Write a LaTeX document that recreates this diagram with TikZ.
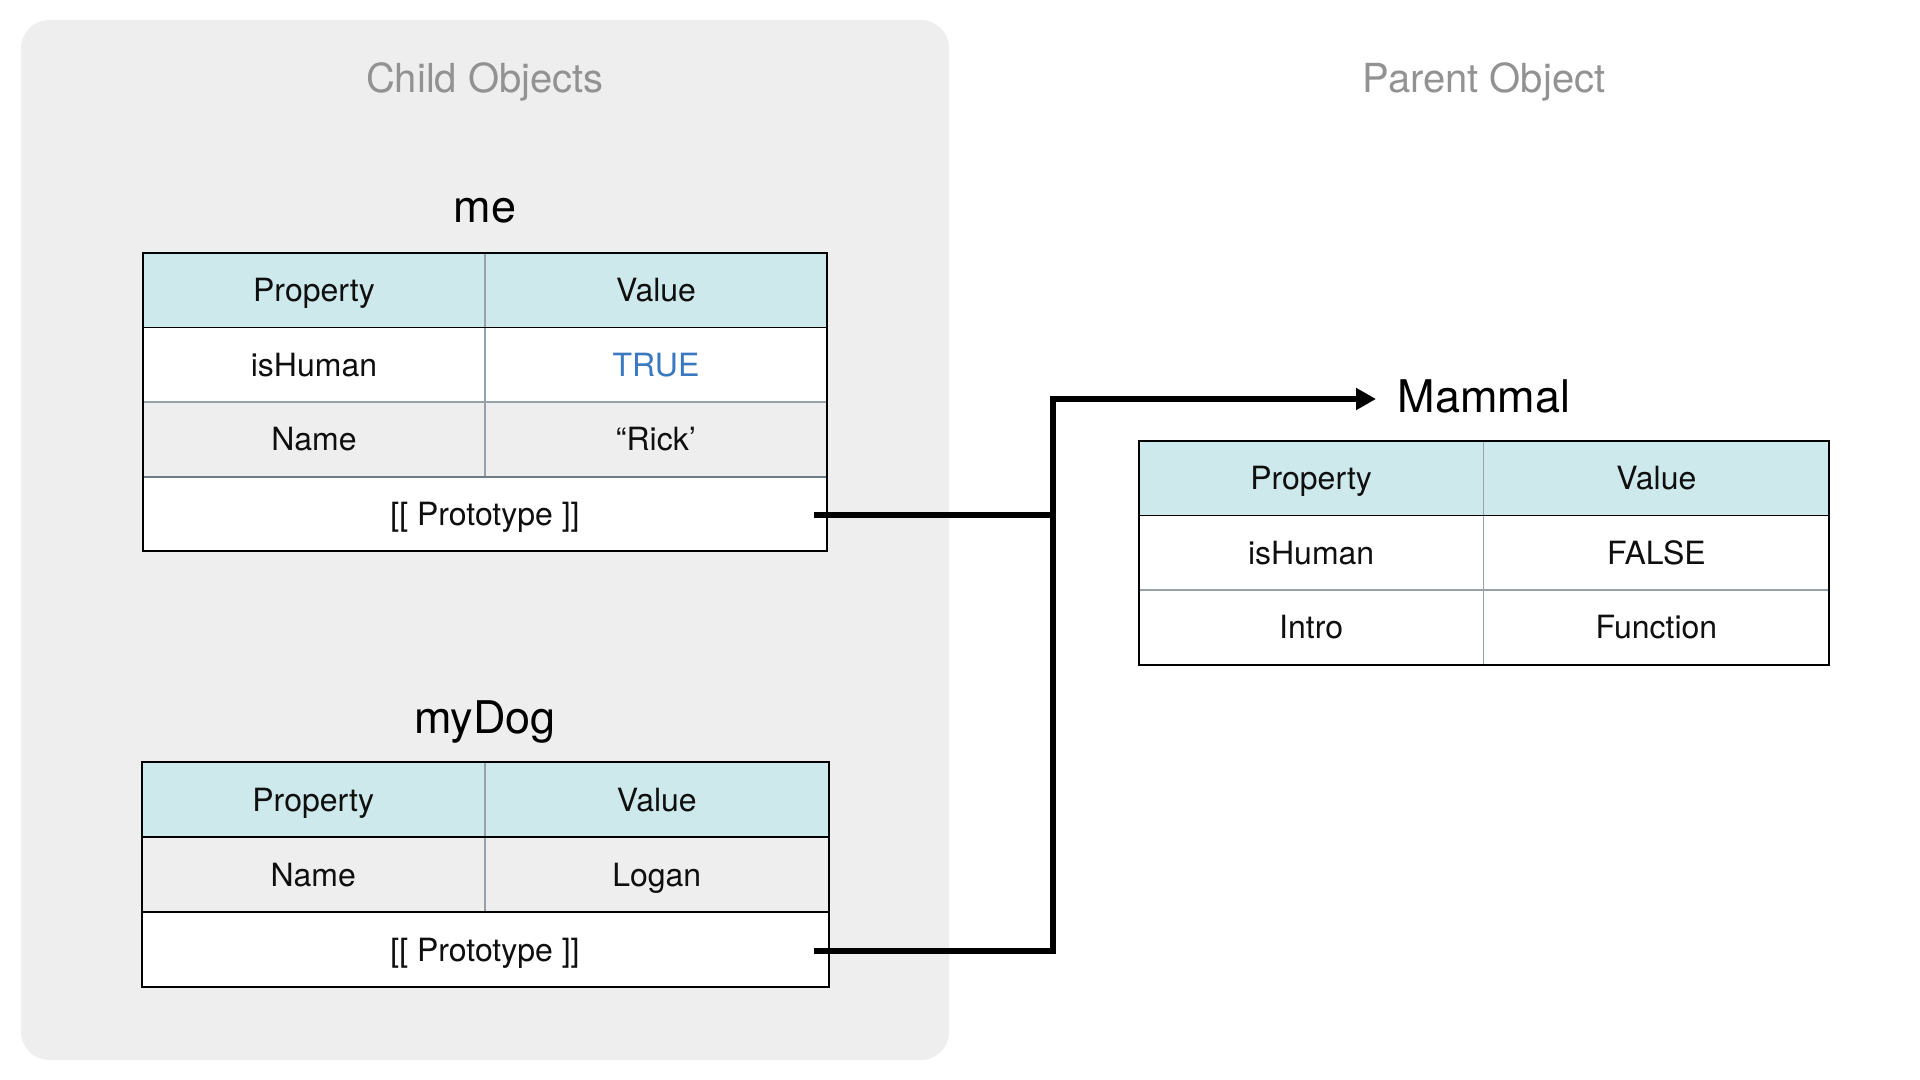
\documentclass[tikz,border=0pt]{standalone}
\usepackage{fontspec}
\setmainfont{TeX Gyre Heros}
\usetikzlibrary{arrows.meta}
\definecolor{panel}{RGB}{238,238,238}
\definecolor{hdr}{RGB}{206,233,236}
\definecolor{rowgray}{RGB}{238,238,238}
\definecolor{gridc}{RGB}{150,161,170}
\definecolor{gridd}{RGB}{110,124,136}
\definecolor{truec}{RGB}{58,120,192}
\definecolor{ttl}{RGB}{146,146,146}
\definecolor{ink}{RGB}{15,15,15}
\begin{document}
\begin{tikzpicture}[x=0.5pt,y=-0.5pt,
  cell/.style={inner sep=0pt, outer sep=0pt, text height=11.5pt, text depth=0pt,
    font=\fontsize{16}{19}\selectfont, text=ink},
  metab/.style={cell, minimum height=37.25pt},
  dogtab/.style={cell, minimum height=37.5pt},
  mamtab/.style={cell, minimum height=37.25pt},
  sectitle/.style={anchor=base, font=\fontsize{20}{24}\selectfont, text=ttl},
  objtitle/.style={anchor=base, font=\fontsize{22.5}{27}\selectfont, text=black},
  border/.style={draw=black, line width=1pt},
  hdrline/.style={draw=black, line width=0.8pt},
  gridline/.style={draw=gridc, line width=0.6pt},
  gridthick/.style={draw=gridd, line width=1pt},
  conn/.style={draw=black, line width=2.6pt, line join=miter},
  tip/.style={-{Triangle[length=10pt,width=10.5pt]}}
]
\useasboundingbox (0,0) rectangle (1920,1080);

% background panel
\fill[panel, rounded corners=14pt] (21,20) rectangle (949,1060);

% section titles
\node[sectitle] (tchild) at (485,93) {Child Objects};
\node[sectitle] (tparent) at (1484,93) {Parent Object};

% ---------------- me ----------------
\node[objtitle] (tme) at (485,223) {me};
\node[metab, fill=hdr, minimum width=171pt] (me-h1) at (314,290.25) {Property};
\node[metab, fill=hdr, minimum width=171pt] (me-h2) at (656,290.25) {Value};
\node[metab, fill=white, minimum width=171pt] (me-a1) at (314,364.75) {isHuman};
\node[metab, fill=white, minimum width=171pt, text=truec] (me-a2) at (656,364.75) {TRUE};
\node[metab, fill=rowgray, minimum width=171pt] (me-b1) at (314,439.25) {Name};
\node[metab, fill=rowgray, minimum width=171pt] (me-b2) at (656,439.25) {“Rick’};
\node[metab, fill=white, minimum width=342pt] (me-p) at (485,513.75) {[[ Prototype ]]};
\draw[gridline] (me-h1.north east) -- (me-b1.south east);
\draw[gridline] (me-a1.south west) -- (me-a2.south east);
\draw[gridthick] (me-b1.south west) -- (me-b2.south east);
\draw[hdrline] (me-h1.south west) -- (me-h2.south east);
\draw[border] (me-h1.north west) rectangle (me-p.south east);

% ---------------- myDog ----------------
\node[objtitle] (tdog) at (485,733) {myDog};
\node[dogtab, fill=hdr, minimum width=171.75pt] (dog-h1) at (313.25,799.5) {Property};
\node[dogtab, fill=hdr, minimum width=171.75pt] (dog-h2) at (656.75,799.5) {Value};
\node[dogtab, fill=rowgray, minimum width=171.75pt] (dog-a1) at (313.25,874.5) {Name};
\node[dogtab, fill=rowgray, minimum width=171.75pt] (dog-a2) at (656.75,874.5) {Logan};
\node[dogtab, fill=white, minimum width=343.5pt] (dog-p) at (485,949.5) {[[ Prototype ]]};
\draw[gridline] (dog-h1.north east) -- (dog-a1.south east);
\draw[border] (dog-h1.south west) -- (dog-h2.south east);
\draw[border] (dog-a1.south west) -- (dog-a2.south east);
\draw[border] (dog-h1.north west) rectangle (dog-p.south east);

% ---------------- Mammal ----------------
\node[objtitle] (tmam) at (1484,412) {Mammal};
\node[mamtab, fill=hdr, minimum width=172.6pt] (mam-h1) at (1311.1,478.25) {Property};
\node[mamtab, fill=hdr, minimum width=172.6pt] (mam-h2) at (1656.4,478.25) {Value};
\node[mamtab, fill=white, minimum width=172.6pt] (mam-a1) at (1311.1,552.75) {isHuman};
\node[mamtab, fill=white, minimum width=172.6pt] (mam-a2) at (1656.4,552.75) {FALSE};
\node[mamtab, fill=white, minimum width=172.6pt] (mam-b1) at (1311.1,627.25) {Intro};
\node[mamtab, fill=white, minimum width=172.6pt] (mam-b2) at (1656.4,627.25) {Function};
\draw[gridline] (mam-h1.north east) -- (mam-b1.south east);
\draw[gridline] (mam-a1.south west) -- (mam-a2.south east);
\draw[hdrline] (mam-h1.south west) -- (mam-h2.south east);
\draw[border] (mam-h1.north west) rectangle (mam-b2.south east);

% ---------------- connectors ----------------
\coordinate (p1) at (814,515);
\coordinate (p2) at (814,951);
\coordinate (j1) at (1053,515);
\coordinate (j2) at (1053,951);
\coordinate (jt) at (1053,399);
\coordinate (atip) at (1376,399);
\draw[conn] (p1) -- (j1);
\draw[conn, tip] (p2) -- (j2) -- (jt) -- (atip);
\end{tikzpicture}
\end{document}
